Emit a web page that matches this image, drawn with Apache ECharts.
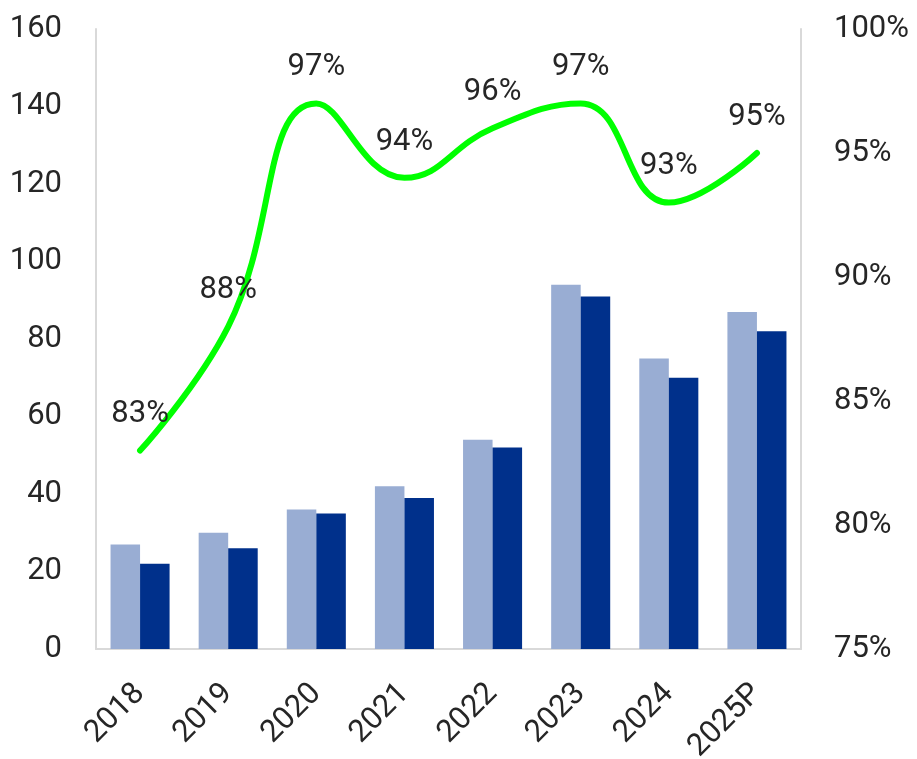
<!DOCTYPE html>
<html>
<head>
<meta charset="utf-8">
<script src="https://cdn.jsdelivr.net/npm/echarts@6/dist/echarts.min.js"></script>
<style>
  html, body { margin: 0; padding: 0; background: #ffffff; }
  #chart { width: 917px; height: 759px; }
</style>
</head>
<body>
<div id="chart"></div>
<script>
// Years on the category axis
const years = ['2018', '2019', '2020', '2021', '2022', '2023', '2024', '2025P'];
// Left-axis bar series
const barLight = [27, 30, 36, 42, 54, 94, 75, 87];
const barDark = [22, 26, 35, 39, 52, 91, 70, 82];
// Right-axis ratio line (percent)
const ratio = [83, 88, 97, 94, 96, 97, 93, 95];
// Axis ticks
const leftTicks = { min: 0, max: 160, interval: 20 };
const rightTicks = { min: 75, max: 100, interval: 5 };

const FONT = 'Roboto';
const TEXT = '#262626';
const AXIS_LINE = '#D9D9D9';
const FS = 31;

const chart = echarts.init(document.getElementById('chart'), null, { renderer: 'canvas' });

chart.setOption({
  animation: false,
  backgroundColor: '#ffffff',
  grid: {
    left: 96, right: 116, top: 29, bottom: 110,
    containLabel: false,
    outerBoundsMode: 'none'
  },
  xAxis: {
    type: 'category',
    data: years,
    axisLine: { show: true, lineStyle: { color: AXIS_LINE, width: 2 } },
    axisTick: { show: false },
    axisLabel: {
      rotate: 45,
      margin: 40,
      color: TEXT,
      fontFamily: FONT,
      fontSize: FS,
      fontWeight: 'normal'
    }
  },
  yAxis: [
    {
      type: 'value',
      min: leftTicks.min,
      max: leftTicks.max,
      interval: leftTicks.interval,
      axisLine: { show: true, lineStyle: { color: AXIS_LINE, width: 2 } },
      axisTick: { show: false },
      splitLine: { show: false },
      axisLabel: {
        margin: 34,
        color: TEXT,
        fontFamily: FONT,
        fontSize: FS,
        fontWeight: 'normal'
      }
    },
    {
      type: 'value',
      min: rightTicks.min,
      max: rightTicks.max,
      interval: rightTicks.interval,
      position: 'right',
      axisLine: { show: true, lineStyle: { color: AXIS_LINE, width: 2 } },
      axisTick: { show: false },
      splitLine: { show: false },
      axisLabel: {
        margin: 33,
        color: TEXT,
        fontFamily: FONT,
        fontSize: FS,
        fontWeight: 'normal',
        formatter: v => v + '%'
      }
    }
  ],
  series: [
    {
      type: 'bar',
      data: barLight,
      yAxisIndex: 0,
      barGap: '0%',
      barCategoryGap: '33%',
      itemStyle: { color: '#99ADD3' }
    },
    {
      type: 'bar',
      data: barDark,
      yAxisIndex: 0,
      itemStyle: { color: '#00308B' }
    },
    {
      type: 'line',
      data: ratio,
      yAxisIndex: 1,
      smooth: 0.45,
      symbol: 'circle',
      symbolSize: 1,
      showSymbol: true,
      itemStyle: { color: 'rgba(0,0,0,0)' },
      lineStyle: { color: '#00FF00', width: 6, cap: 'round', join: 'round' },
      label: {
        show: true,
        position: 'top',
        distance: 20,
        color: TEXT,
        fontFamily: FONT,
        fontSize: FS,
        fontWeight: 'normal',
        formatter: p => p.value + '%'
      },
      labelLayout: { hideOverlap: false },
      z: 5
    }
  ]
});
</script>
</body>
</html>
